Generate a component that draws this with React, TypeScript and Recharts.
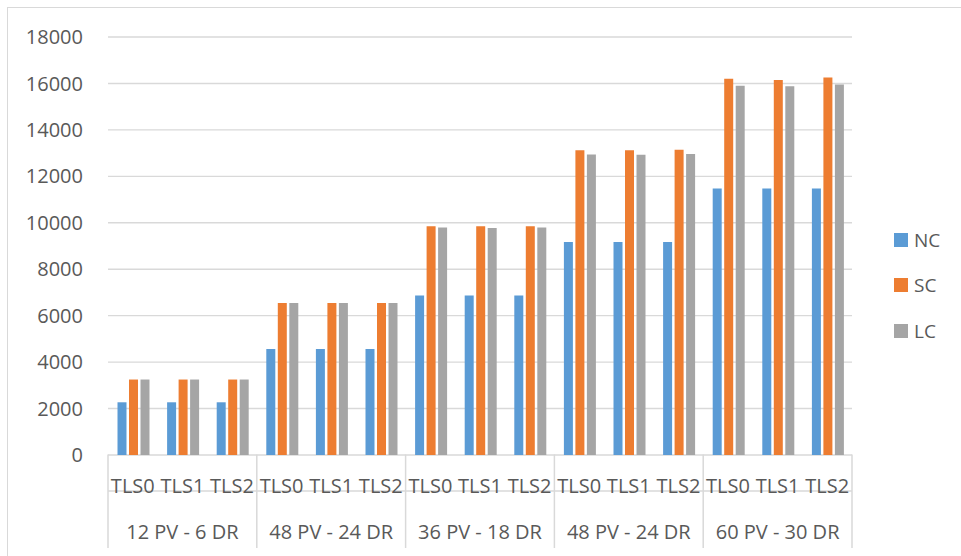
import { BarChart, Bar, XAxis, YAxis, CartesianGrid, Legend } from 'recharts'

const categories = [
  'TLS0', 'TLS1', 'TLS2', 'TLS0', 'TLS1', 'TLS2', 'TLS0', 'TLS1', 'TLS2',
  'TLS0', 'TLS1', 'TLS2', 'TLS0', 'TLS1', 'TLS2',
]
const groups = ['12 PV - 6 DR', '48 PV - 24 DR', '36 PV - 18 DR', '48 PV - 24 DR', '60 PV - 30 DR']
const nc = [2270, 2270, 2270, 4560, 4560, 4560, 6870, 6870, 6870, 9170, 9170, 9170, 11480, 11480, 11480]
const sc = [3250, 3250, 3250, 6550, 6550, 6550, 9850, 9850, 9850, 13120, 13120, 13140, 16200, 16150, 16260]
const lc = [3250, 3250, 3250, 6550, 6550, 6550, 9800, 9770, 9800, 12940, 12930, 12960, 15900, 15880, 15950]
const yTicks = [0, 2000, 4000, 6000, 8000, 10000, 12000, 14000, 16000, 18000]

const series = [
  { key: 'nc', name: 'NC', color: '#5B9BD5' },
  { key: 'sc', name: 'SC', color: '#ED7D31' },
  { key: 'lc', name: 'LC', color: '#A5A5A5' },
]

const data = categories.map((tls, i) => ({
  tls,
  group: groups[Math.floor(i / 3)],
  nc: nc[i],
  sc: sc[i],
  lc: lc[i],
}))

const TEXT = '#595959'
const LINE = '#D9D9D9'
const BASE_Y = 454.5
const BOTTOM_Y = 548
const BAND = (852 - 108) / categories.length

function TlsTick({ x, payload }: any) {
  return (
    <text x={x} y={486} dy="0.35em" textAnchor="middle" fill={TEXT} fontSize={20}>
      {payload.value}
    </text>
  )
}

function GroupTick({ x, payload }: any) {
  const i = payload.index
  return (
    <g>
      {i % 3 === 0 && (
        <line x1={x - BAND / 2} x2={x - BAND / 2} y1={BASE_Y} y2={BOTTOM_Y} stroke={LINE} strokeWidth={1.5} />
      )}
      {i === categories.length - 1 && (
        <line x1={x + BAND / 2} x2={x + BAND / 2} y1={BASE_Y} y2={BOTTOM_Y} stroke={LINE} strokeWidth={1.5} />
      )}
      {i % 3 === 1 && (
        <text x={x} y={532} dy="0.35em" textAnchor="middle" fill={TEXT} fontSize={20}>
          {payload.value}
        </text>
      )}
    </g>
  )
}

function LegendBox() {
  return (
    <div>
      {series.map((s) => (
        <div key={s.key} style={{ display: 'flex', alignItems: 'center', height: 45.5 }}>
          <span style={{ width: 14, height: 14, background: s.color, display: 'inline-block', marginRight: 6 }} />
          <span style={{ fontSize: 19, color: TEXT }}>{s.name}</span>
        </div>
      ))}
    </div>
  )
}

export default function App() {
  return (
    <div
      style={{
        position: 'absolute', left: 0, top: 0, width: 961, height: 556,
        overflow: 'hidden', background: '#fff', fontFamily: '"Open Sans", sans-serif',
      }}
    >
      <div
        style={{
          position: 'absolute', left: 7, top: 7, width: 980, height: 580,
          border: `1px solid ${LINE}`,
        }}
      />
      <BarChart
        width={961}
        height={556}
        data={data}
        margin={{ top: 37, right: 109, left: 48, bottom: 10 }}
        barCategoryGap={9.5}
        barGap={2.5}
      >
        <CartesianGrid vertical={false} stroke={LINE} strokeWidth={1.4} />
        <XAxis
          xAxisId="tls"
          dataKey="tls"
          interval={0}
          height={55}
          tickLine={false}
          axisLine={{ stroke: LINE, strokeWidth: 1.5 }}
          tick={<TlsTick />}
        />
        <XAxis
          xAxisId="grp"
          dataKey="group"
          interval={0}
          height={36}
          tickLine={false}
          axisLine={false}
          tick={<GroupTick />}
        />
        <YAxis
          domain={[0, 18000]}
          ticks={yTicks}
          width={60}
          axisLine={false}
          tickLine={false}
          tickMargin={19}
          tick={{ fill: TEXT, fontSize: 20 }}
        />
        <Legend
          align="center"
          verticalAlign="middle"
          content={<LegendBox />}
          wrapperStyle={{ left: 894, top: 217, width: 60, height: 140 }}
        />
        {series.map((s) => (
          <Bar
            key={s.key}
            xAxisId="tls"
            dataKey={s.key}
            name={s.name}
            fill={s.color}
            isAnimationActive={false}
          />
        ))}
      </BarChart>
    </div>
  )
}
